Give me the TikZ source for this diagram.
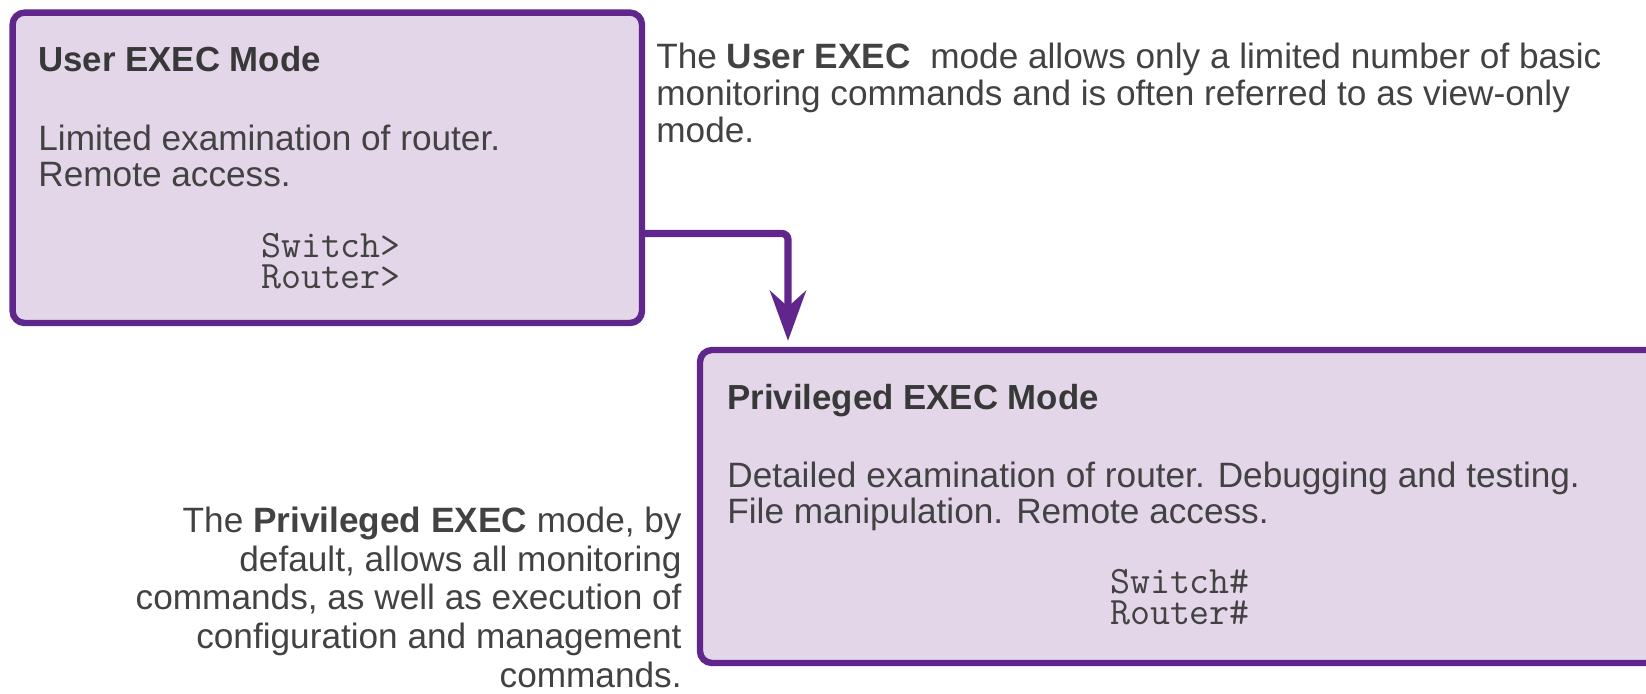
\documentclass[tikz,border=0pt]{standalone}
\usepackage{fontspec}
\setmainfont{Liberation Sans}
\usepackage{xcolor}
\usetikzlibrary{arrows.meta}

\definecolor{modepurple}{RGB}{96,38,140}
\definecolor{modefill}{RGB}{226,214,232}
\definecolor{modetext}{RGB}{66,66,66}

\begin{document}
\begin{tikzpicture}[x=0.5pt,y=-0.5pt,
  modebox/.style={draw=modepurple, fill=modefill, line width=3.2pt,
    rounded corners=6pt, inner sep=0pt},
  modetitle/.style={anchor=base west, inner sep=0pt, text=modetext!85!black,
    font=\fontsize{17.4}{18}\selectfont\bfseries},
  modebody/.style={anchor=base west, inner sep=0pt, align=left, text=modetext,
    font=\fontsize{17.6}{18}\selectfont},
  prompt/.style={anchor=base, inner sep=0pt, align=left, text=modetext,
    font=\ttfamily\fontsize{19.4}{15.5}\selectfont},
  note/.style={inner sep=0pt, text=modetext},
  link/.style={draw=modepurple, line width=3.6pt, rounded corners=3pt,
    -{Stealth[length=25pt,width=18pt,inset=8pt]}, shorten >=3pt}]

  % Frame
  \useasboundingbox (0,0) rectangle (1646,693);
  \clip (0,0) rectangle (1646,693);

  % User EXEC box
  \node[modebox, minimum width=314.7pt, minimum height=155.2pt] (user) at (327.3,167.8) {};
  \node[modetitle] (usertitle) at (38,71) {User EXEC Mode};
  \node[modebody] (userdesc) at (38,186) {Limited examination of router.\\Remote access.};
  \node[prompt] (userprompt) at (331,288) {Switch>\\Router>};

  % Privileged EXEC box (runs off the right edge)
  \node[modebox, minimum width=480pt, minimum height=156.5pt] (priv) at (1180,506.5) {};
  \node[modetitle] (privtitle) at (727,409) {Privileged EXEC Mode};
  \node[modebody] (privdesc) at (727,523) {Detailed examination of router. Debugging and testing.\\File manipulation. Remote access.};
  \node[prompt] (privprompt) at (1180,624) {Switch\#\\Router\#};

  % Arrow from user mode down to privileged mode
  \coordinate (turn) at (788,233.5);
  \draw[link] (user.east |- turn) -- (turn) -- (turn |- priv.north);

  % Notes
  \node[note, anchor=base west, align=left, font=\fontsize{17.6}{18.3}\selectfont] (usernote) at (656,142)
    {The \textbf{User EXEC}~ mode allows only a limited number of basic\\monitoring commands and is often referred to as view-only\\mode.};
  \node[note, anchor=base east, align=right, font=\fontsize{17.6}{19.3}\selectfont] (privnote) at (682,687)
    {The \textbf{Privileged EXEC} mode, by\\default, allows all monitoring\\commands, as well as execution of\\configuration and management\\commands.};

\end{tikzpicture}
\end{document}
